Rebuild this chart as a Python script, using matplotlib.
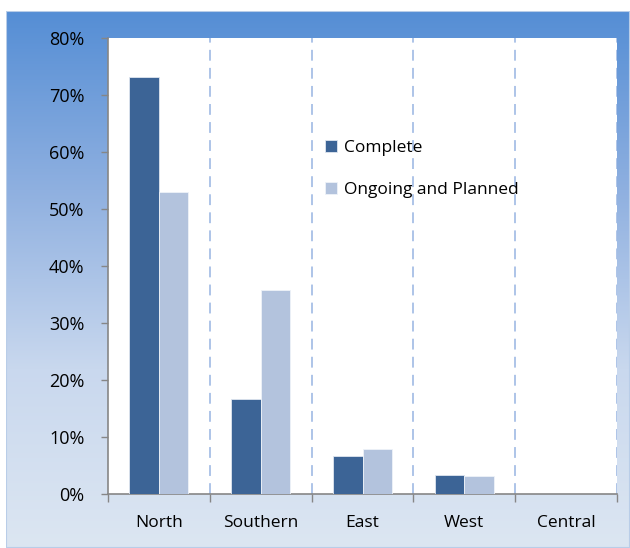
import numpy as np
import matplotlib.pyplot as plt
from matplotlib.colors import LinearSegmentedColormap
from matplotlib.ticker import PercentFormatter

regions = ["North", "Southern", "East", "West", "Central"]
complete = [73.2, 16.7, 6.7, 3.3, 0.0]
ongoing = [53.0, 35.8, 7.9, 3.2, 0.0]

plt.rcParams['font.family'] = ['Open Sans', 'DejaVu Sans']

fig = plt.figure(figsize=(6.3, 5.48), dpi=100)

# gradient background panel
bg = fig.add_axes([6/630, 0, 624/630, 537/548])
cmap = LinearSegmentedColormap.from_list("bg", ["#558ed5", "#8fb0e0", "#c9d8ee", "#dce6f2"])
grad = np.linspace(0, 1, 256).reshape(-1, 1)
bg.imshow(grad, aspect="auto", cmap=cmap, extent=[0, 1, 0, 1], origin="upper")
bg.set_axis_off()
bg.add_patch(plt.Rectangle((0, 0), 1, 1, transform=bg.transAxes, fill=False,
                           edgecolor="#b9cde8", linewidth=1.5))

ax = fig.add_axes([108/630, 1 - 494/548, 509/630, (494 - 38)/548])
ax.set_facecolor("white")
x = np.arange(len(regions))
w = 0.29
ax.bar(x - w/2, complete, w, color="#3c6496", edgecolor="#dfe6f0", linewidth=0.6,
       label="Complete", zorder=3)
ax.bar(x + w/2, ongoing, w, color="#b3c3dd", edgecolor="#eef2f8", linewidth=0.6,
       label="Ongoing and Planned", zorder=3)

ax.set_xlim(-0.5, len(regions) - 0.5)
ax.set_ylim(0, 80)
ax.set_yticks(range(0, 81, 10))
ax.yaxis.set_major_formatter(PercentFormatter(decimals=0))
ax.set_xticks(x)
ax.set_xticklabels(regions)
ax.set_xticks(np.arange(-0.5, len(regions)), minor=True)
ax.tick_params(axis="x", which="major", length=0, pad=15, labelsize=12.5)
ax.tick_params(axis="x", which="minor", length=6, color="#868686", width=1)
ax.tick_params(axis="y", length=5, color="#868686", width=1, pad=12, labelsize=13)

for b in np.arange(0.5, len(regions)):
    ax.axvline(b, color="#a7bfe6", linestyle=(0, (6, 4)), linewidth=1.3, zorder=1)

for s in ["top", "right"]:
    ax.spines[s].set_visible(False)
for s in ["left", "bottom"]:
    ax.spines[s].set_color("#868686")
    ax.spines[s].set_linewidth(1.2)

ax.legend(loc="upper left", bbox_to_anchor=(0.395, 0.81), frameon=False, fontsize=12.5,
          handlelength=0.7, handleheight=0.7, handletextpad=0.4, labelspacing=1.45)

fig.savefig("out.png", dpi=100)
